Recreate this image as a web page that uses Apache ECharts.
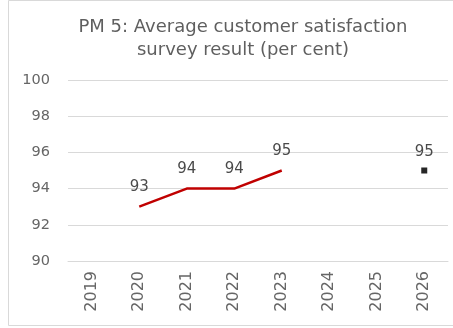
<!DOCTYPE html>
<html>
<head>
<meta charset="utf-8">
<script src="https://cdn.jsdelivr.net/npm/echarts@6/dist/echarts.min.js"></script>
<style>
  html, body { margin: 0; padding: 0; background: #fff; }
  #chart { width: 453px; height: 328px; }
</style>
</head>
<body>
<div id="chart"></div>
<script>
// Survey years and results
const years = ['2019', '2020', '2021', '2022', '2023', '2024', '2025', '2026'];
const actual = [null, 93, 94, 94, 95, null, null, null];
const target = [null, null, null, null, null, null, null, 95];
const yTicks = { min: 90, max: 100, step: 2 };

const chart = echarts.init(document.getElementById('chart'), null, { renderer: 'canvas' });
const font = 'DejaVu Sans, Verdana, sans-serif';

chart.setOption({
  animation: false,
  backgroundColor: '#ffffff',
  title: {
    text: 'PM 5: Average customer satisfaction\nsurvey result (per cent)',
    left: 238,
    textAlign: 'center',
    top: 11,
    textStyle: { fontFamily: font, fontSize: 18, fontWeight: 'normal', color: '#5f5f5f', lineHeight: 23 }
  },
  graphic: [{
    type: 'rect',
    shape: { x: 8.5, y: 0.5, width: 470, height: 325 },
    style: { fill: 'none', stroke: '#d9d9d9', lineWidth: 1 },
    silent: true
  }],
  grid: { left: 68, right: 5, top: 80, bottom: 67 },
  xAxis: {
    type: 'category',
    data: years,
    boundaryGap: true,
    axisLine: { show: true, lineStyle: { color: '#d9d9d9', width: 1 } },
    axisTick: { show: false },
    axisLabel: { rotate: 90, margin: 10, fontFamily: font, fontSize: 16, color: '#666666' }
  },
  yAxis: {
    type: 'value',
    min: yTicks.min,
    max: yTicks.max,
    interval: yTicks.step,
    axisLine: { show: false },
    axisTick: { show: false },
    splitLine: { lineStyle: { color: '#d9d9d9', width: 1 } },
    axisLabel: { margin: 18, fontFamily: font, fontSize: 14.5, color: '#666666' }
  },
  series: [
    {
      type: 'line',
      data: actual,
      showSymbol: true,
      symbol: 'circle',
      symbolSize: 0.1,
      lineStyle: { color: '#c00000', width: 2.5 },
      itemStyle: { color: '#c00000' },
      label: {
        show: true, position: 'top', distance: 12,
        fontFamily: font, fontSize: 15, color: '#4a4a4a'
      }
    },
    {
      type: 'line',
      data: target,
      symbol: 'rect',
      symbolSize: 6,
      itemStyle: { color: '#262626' },
      lineStyle: { width: 0 },
      label: {
        show: true, position: 'top', distance: 8,
        fontFamily: font, fontSize: 15, color: '#4a4a4a'
      }
    }
  ]
});
</script>
</body>
</html>
